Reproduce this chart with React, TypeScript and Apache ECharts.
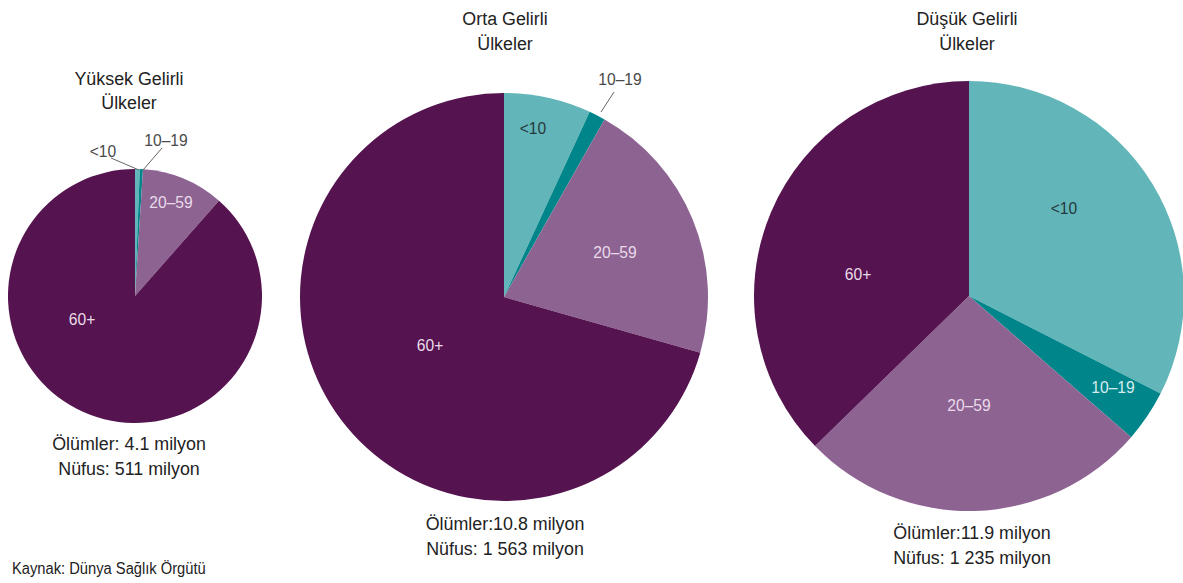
import React, { useEffect, useRef } from "react";
import * as echarts from "echarts";

const categories = ["<10", "10–19", "20–59", "60+"];
const highIncomeShares = [0.6, 0.4, 10.5, 88.5];
const middleIncomeShares = [6.9, 1.3, 21.2, 70.6];
const lowIncomeShares = [32.5, 3.9, 26.3, 37.3];

const groupTitles = [
  ["Yüksek Gelirli", "Ülkeler"],
  ["Orta Gelirli", "Ülkeler"],
  ["Düşük Gelirli", "Ülkeler"],
];
const deathTexts = ["Ölümler: 4.1 milyon", "Ölümler:10.8 milyon", "Ölümler:11.9 milyon"];
const populationTexts = ["Nüfus: 511 milyon", "Nüfus: 1 563 milyon", "Nüfus: 1 235 milyon"];
const sourceText = "Kaynak: Dünya Sağlık Örgütü";

const FONT = "'Liberation Sans Narrow', 'Arial Narrow', 'Liberation Sans', Arial, sans-serif";
const sliceColors = ["#62b5b8", "#00868a", "#8d6392", "#55134f"];

export default function App() {
  const ref = useRef<HTMLDivElement>(null);
  useEffect(() => {
    document.body.style.margin = "0";
    const chart = echarts.init(ref.current!, null, { renderer: "svg" });

    const pies = [
      { shares: highIncomeShares, center: [135, 296], radius: 127 },
      { shares: middleIncomeShares, center: [504, 297], radius: 204 },
      { shares: lowIncomeShares, center: [969, 296], radius: 215 },
    ];

    const series = pies.map((p) => ({
      type: "pie",
      center: p.center,
      radius: p.radius,
      startAngle: 90,
      clockwise: true,
      silent: true,
      z: 1,
      label: { show: false },
      labelLine: { show: false },
      itemStyle: { borderWidth: 0 },
      data: categories.map((c, i) => ({
        name: c,
        value: p.shares[i],
        itemStyle: { color: sliceColors[i] },
      })),
    }));

    const txt = (
      text: string,
      x: number,
      y: number,
      size: number,
      sx: number,
      color: string,
      align = "center"
    ) => ({
      type: "text",
      x,
      y,
      z: 100,
      scaleX: sx,
      silent: true,
      style: {
        text,
        fontSize: size,
        fontFamily: FONT,
        fill: color,
        textAlign: align,
        textVerticalAlign: "middle",
      },
    });
    const line = (x1: number, y1: number, x2: number, y2: number) => ({
      type: "line",
      z: 100,
      silent: true,
      shape: { x1, y1, x2, y2 },
      style: { stroke: "#666", lineWidth: 1 },
    });

    const dark = "#26393d";
    const light = "#eadbea";
    const outside = "#4a4a4a";
    const ink = "#222";
    const T = 19;
    const TS = 0.94;
    const L = 17;
    const LS = 0.92;

    const graphic: any[] = [
      // titles
      txt(groupTitles[0][0], 129, 78, T, TS, ink),
      txt(groupTitles[0][1], 129, 102, T, TS, ink),
      txt(groupTitles[1][0], 505, 18, T, TS, ink),
      txt(groupTitles[1][1], 505, 43, T, TS, ink),
      txt(groupTitles[2][0], 967, 18, T, TS, ink),
      txt(groupTitles[2][1], 967, 43, T, TS, ink),
      // footers
      txt(deathTexts[0], 129, 443, T, TS, ink),
      txt(populationTexts[0], 129, 468, T, TS, ink),
      txt(deathTexts[1], 505, 523, T, TS, ink),
      txt(populationTexts[1], 505, 548, T, TS, ink),
      txt(deathTexts[2], 972, 532, T, TS, ink),
      txt(populationTexts[2], 972, 557, T, TS, ink),
      txt(sourceText, 12, 568, 16, 0.92, ink, "left"),
      // slice labels, high income
      txt(categories[0], 103, 151, L, LS, outside),
      line(111, 158, 139, 170),
      txt(categories[1], 166, 140, L, LS, outside),
      line(162, 148, 143, 170),
      txt(categories[2], 171, 202, L, LS, light),
      txt(categories[3], 82, 319, L, LS, light),
      // middle income
      txt(categories[0], 533, 128, L, LS, dark),
      txt(categories[1], 620, 79, L, LS, outside),
      line(614, 92, 601, 112),
      txt(categories[2], 615, 252, L, LS, light),
      txt(categories[3], 430, 345, L, LS, light),
      // low income
      txt(categories[0], 1064, 208, L, LS, dark),
      txt(categories[1], 1113, 387, L, LS, "#d8ecee"),
      txt(categories[2], 969, 405, L, LS, light),
      txt(categories[3], 858, 274, L, LS, light),
    ];

    chart.setOption({
      animation: false,
      backgroundColor: "#ffffff",
      textStyle: { fontFamily: FONT },
      series,
      graphic,
    } as any);
    return () => chart.dispose();
  }, []);
  return <div ref={ref} style={{ position: "fixed", left: 0, top: 0, width: 1183, height: 583 }} />;
}
